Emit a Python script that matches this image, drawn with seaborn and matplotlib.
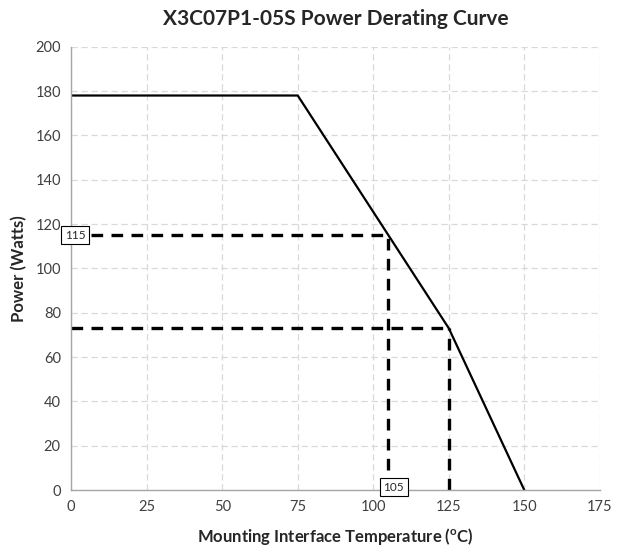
import matplotlib
matplotlib.use("Agg")
import matplotlib.pyplot as plt
import seaborn as sns
import pandas as pd

# derating curve breakpoints
temp_c = [0, 75, 125, 150]
power_w = [178, 178, 73, 0]

# guide points (dashed lines)
guide_temps = [105, 125]
guide_powers = [115, 73]

x_ticks = [0, 25, 50, 75, 100, 125, 150, 175]
y_ticks = [0, 20, 40, 60, 80, 100, 120, 140, 160, 180, 200]

sns.set_style("white")
plt.rcParams['font.family'] = ['Lato', 'DejaVu Sans']

df = pd.DataFrame({'temp': temp_c, 'power': power_w})

fig = plt.figure(figsize=(6.19, 5.5), dpi=100)
ax = fig.add_axes([0.115, 0.109, 0.854, 0.806])

sns.lineplot(data=df, x='temp', y='power', color='black', linewidth=1.6, ax=ax)

for t, p in zip(guide_temps, guide_powers):
    ax.plot([0, t], [p, p], color='black', linewidth=2.4, linestyle=(0, (3.5, 2.5)))
    ax.plot([t, t], [0, p], color='black', linewidth=2.4, linestyle=(0, (3.5, 2.5)))

ax.set_xlim(0, 175)
ax.set_ylim(0, 200)
ax.set_xticks(x_ticks)
ax.set_yticks(y_ticks)
ax.grid(True, color='#d9d9d9', linestyle=(0, (5, 3)), linewidth=0.9)
ax.set_axisbelow(True)

for s in ['top', 'right']:
    ax.spines[s].set_visible(False)
for s in ['left', 'bottom']:
    ax.spines[s].set_color('#a6a6a6')
    ax.spines[s].set_linewidth(1)
ax.tick_params(axis='both', labelsize=10.5, colors='#404040', length=4,
               color='#a6a6a6', direction='out')

ax.set_xlabel(r'Mounting Interface Temperature ($^{\mathregular{o}}$C)',
              fontsize=12, fontweight='bold', labelpad=8)
ax.set_ylabel('Power (Watts)', fontsize=12, fontweight='bold', labelpad=6)
ax.set_title('X3C07P1-05S Power Derating Curve', fontsize=15,
             fontweight='bold', pad=16)

box = dict(boxstyle='square,pad=0.3', facecolor='white', edgecolor='black', linewidth=0.8)
ax.text(1.3, guide_powers[0], str(guide_powers[0]), fontsize=8.5, ha='center',
        va='center', bbox=box, clip_on=False, zorder=5)
ax.text(guide_temps[0] + 1.8, 1.2, str(guide_temps[0]), fontsize=8.5, ha='center',
        va='center', bbox=box, clip_on=False, zorder=5)

fig.savefig('out.png', dpi=100)
